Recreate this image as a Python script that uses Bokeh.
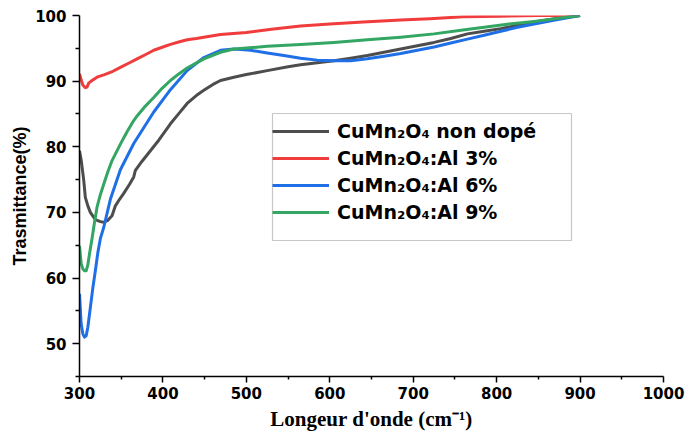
from bokeh.plotting import figure
from bokeh.models import FixedTicker, Legend, LegendItem, BoxAnnotation
from bokeh.embed import file_html
from bokeh.resources import INLINE

# Wavenumber (cm^-1) and transmittance (%) for each sample
x_nondope = [300, 302, 305, 307, 310, 313, 319, 325, 329, 334, 339, 343, 348, 353, 360, 365,
             367, 375, 385, 395, 409, 420, 429, 440, 449, 460, 469, 485, 500, 525, 550, 565,
             585, 605, 625, 645, 665, 685, 705, 725, 745, 765, 785, 805, 825, 845, 870, 900]
y_nondope = [79.4, 78.0, 75.0, 72.3, 71.0, 70.0, 68.9, 68.6, 68.5, 68.8, 69.5, 71.0, 72.0, 72.9,
             74.3, 75.4, 76.4, 77.8, 79.4, 81.0, 83.5, 85.2, 86.6, 87.8, 88.6, 89.5, 90.1, 90.6,
             91.0, 91.6, 92.2, 92.5, 92.8, 93.1, 93.5, 93.9, 94.4, 94.9, 95.4, 95.9, 96.5, 97.2,
             97.6, 98.0, 98.5, 99.0, 99.5, 100.0]

x_al3 = [300, 302, 304, 307, 309, 311, 315, 321, 330, 340, 349, 360, 369, 380, 389, 400, 409,
         420, 429, 440, 449, 469, 500, 530, 565, 600, 640, 685, 720, 760, 805, 850, 900]
y_al3 = [91.1, 90.2, 89.4, 89.0, 89.1, 89.7, 90.1, 90.6, 91.0, 91.5, 92.1, 92.8, 93.4, 94.1, 94.7,
         95.2, 95.6, 96.0, 96.3, 96.5, 96.7, 97.1, 97.4, 97.9, 98.4, 98.7, 99.0, 99.3, 99.5, 99.8,
         99.9, 100.0, 100.0]

x_al6 = [300, 302, 304, 306, 308, 310, 313, 316, 319, 322, 325, 329, 337, 349, 365, 389, 409,
         429, 449, 469, 485, 505, 525, 545, 565, 585, 605, 625, 645, 665, 685, 705, 725, 745,
         765, 785, 805, 825, 845, 870, 900]
y_al6 = [57.6, 53.0, 51.5, 51.0, 51.2, 52.5, 55.5, 58.5, 61.1, 63.9, 66.0, 67.7, 72.0, 76.5,
         80.5, 85.3, 88.7, 91.6, 93.6, 94.7, 94.9, 94.7, 94.3, 93.9, 93.5, 93.2, 93.1, 93.1, 93.4,
         93.8, 94.2, 94.7, 95.2, 95.8, 96.4, 97.0, 97.6, 98.2, 98.7, 99.3, 100.0]

x_al9 = [300, 302, 304, 306, 308, 310, 312, 315, 318, 321, 325, 329, 334, 339, 349, 357, 365,
         369, 379, 389, 399, 409, 419, 429, 449, 469, 485, 525, 565, 605, 645, 685, 725, 755,
         785, 815, 845, 870, 900]
y_al9 = [64.9, 62.2, 61.4, 61.1, 61.1, 62.0, 63.7, 66.0, 68.5, 70.8, 72.7, 74.3, 76.2, 77.9,
         80.4, 82.3, 84.0, 84.7, 86.2, 87.5, 88.9, 90.1, 91.1, 92.0, 93.4, 94.4, 94.9, 95.3, 95.6,
         95.9, 96.3, 96.7, 97.2, 97.7, 98.2, 98.7, 99.1, 99.5, 100.0]

labels = ["CuMn\u2082O\u2084 non dopé", "CuMn\u2082O\u2084:Al 3%",
          "CuMn\u2082O\u2084:Al 6%", "CuMn\u2082O\u2084:Al 9%"]
colors = ["#4d4d4d", "#f03c3c", "#1f6fe6", "#32a662"]

x_ticks = [300, 400, 500, 600, 700, 800, 900, 1000]
x_minor = [350, 450, 550, 650, 750, 850, 950]
y_ticks = [50, 60, 70, 80, 90, 100]
y_minor = [45, 55, 65, 75, 85, 95]

p = figure(width=691, height=439, x_range=(300, 1000), y_range=(45, 100),
           output_backend="svg", toolbar_location=None,
           min_border_left=79, min_border_right=28, min_border_top=15, min_border_bottom=63)
p.grid.visible = False
p.outline_line_color = None

series = [(x_nondope, y_nondope), (x_al3, y_al3), (x_al6, y_al6), (x_al9, y_al9)]
renderers = []
for (xs, ys), c in zip(series, colors):
    renderers.append(p.line(xs, ys, line_color=c, line_width=3, line_join="round"))

for ax in (p.xaxis[0], p.yaxis[0]):
    ax.axis_line_width = 1.5
    ax.axis_line_color = "black"
    ax.major_tick_line_width = 1.5
    ax.minor_tick_line_width = 1.5
    ax.major_tick_in = 0
    ax.minor_tick_in = 0
    ax.major_label_text_font = "DejaVu Sans"
    ax.major_label_text_font_style = "bold"
    ax.major_label_text_font_size = "15px"
    ax.major_label_text_color = "black"
    ax.axis_label_text_color = "black"

p.xaxis.ticker = FixedTicker(ticks=x_ticks, minor_ticks=x_minor)
p.yaxis.ticker = FixedTicker(ticks=y_ticks, minor_ticks=y_minor)
p.xaxis.major_tick_out = 6
p.xaxis.minor_tick_out = 3
p.yaxis.major_tick_out = 7
p.yaxis.minor_tick_out = 4
p.xaxis.major_label_standoff = 4
p.yaxis.major_label_standoff = 6

p.xaxis.axis_label = "Longeur d'onde (cm\u207b\u00b9)"
p.xaxis.axis_label_text_font = "Liberation Serif"
p.xaxis.axis_label_text_font_style = "bold"
p.xaxis.axis_label_text_font_size = "21px"
p.xaxis.axis_label_standoff = 5

p.yaxis.axis_label = "Trasmittance(%)"
p.yaxis.axis_label_text_font = "Liberation Sans"
p.yaxis.axis_label_text_font_style = "bold"
p.yaxis.axis_label_text_font_size = "18px"
p.yaxis.axis_label_standoff = 2

# Legend frame
box = BoxAnnotation(left=272, right=571, top=113, bottom=240,
                    left_units="canvas", right_units="canvas",
                    top_units="canvas", bottom_units="canvas",
                    fill_color="white", fill_alpha=1.0,
                    line_color="#444444", line_width=1.2)
p.add_layout(box)

legend = Legend(items=[LegendItem(label=l, renderers=[r]) for l, r in zip(labels, renderers)],
                location=(193, 152), padding=1, spacing=3, margin=0,
                glyph_width=57, glyph_height=24, label_height=24, label_standoff=8,
                border_line_color=None, background_fill_alpha=0,
                label_text_font="DejaVu Sans", label_text_font_style="bold",
                label_text_font_size="19px", label_text_color="black")
p.add_layout(legend)

open("out.html", "w").write(file_html(p, INLINE))
